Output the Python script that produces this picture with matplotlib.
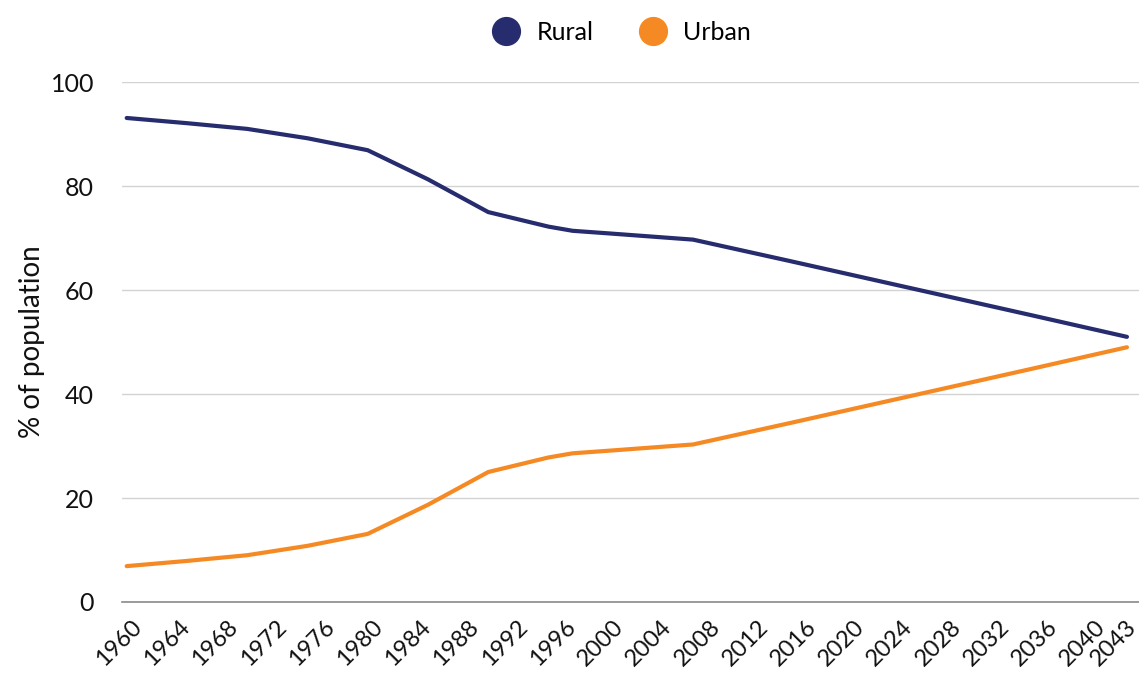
import matplotlib.pyplot as plt
import matplotlib.transforms as mtransforms
from matplotlib.lines import Line2D

# data
years = [1960, 1965, 1970, 1975, 1980, 1985, 1990, 1995, 1997, 2000, 2007, 2015, 2025, 2035, 2043]
rural = [93.1, 92.1, 91.0, 89.2, 86.9, 81.3, 75.0, 72.2, 71.4, 70.9, 69.7, 65.6, 60.4, 55.2, 51.0]
urban = [6.9, 7.9, 9.0, 10.8, 13.1, 18.7, 25.0, 27.8, 28.6, 29.1, 30.3, 34.4, 39.6, 44.8, 49.0]
tick_years = list(range(1960, 2041, 4)) + [2043]

navy = '#262c6d'
orange = '#f58a24'

plt.rcParams['font.family'] = ['Lato', 'DejaVu Sans']

fig = plt.figure(figsize=(11.39, 6.73), dpi=100)
ax = fig.add_axes([0.107, 0.1055, 0.893, 0.7725])

ax.plot(years, rural, color=navy, lw=3, solid_capstyle='round', solid_joinstyle='round')
ax.plot(years, urban, color=orange, lw=3, solid_capstyle='round', solid_joinstyle='round')

ax.set_xlim(1959.6, 2044.0)
ax.set_ylim(0, 100)
ax.set_yticks([0, 20, 40, 60, 80, 100])
ax.set_xticks(tick_years)
ax.set_xticklabels([str(y) for y in tick_years], rotation=45, ha='right',
                   va='top', rotation_mode='anchor')
ax.tick_params(axis='both', length=0, labelsize=18, colors='#111111')
ax.tick_params(axis='x', labelsize=17, pad=10)
ax.tick_params(axis='y', pad=20)

# nudge the rotated year labels a little to the right (last one less, so it stays inside)
labels = ax.get_xticklabels()
for i, lab in enumerate(labels):
    dx = 4 if i < len(labels) - 1 else -1
    off = mtransforms.ScaledTranslation(dx / 100, 0, fig.dpi_scale_trans)
    lab.set_transform(lab.get_transform() + off)

ax.grid(axis='y', color='#d3d3d3', lw=1)
ax.set_axisbelow(True)
for s in ['top', 'right', 'left']:
    ax.spines[s].set_visible(False)
ax.spines['bottom'].set_color('#8a8a8a')
ax.spines['bottom'].set_linewidth(1.2)

ax.set_ylabel('% of population', fontsize=20, color='#111111')
ax.yaxis.set_label_coords(-0.076, 0.5)

handles = [Line2D([], [], ls='none', marker='o', markersize=20, color=navy),
           Line2D([], [], ls='none', marker='o', markersize=20, color=orange)]
fig.legend(handles, ['Rural', 'Urban'], loc='center', bbox_to_anchor=(0.541, 0.952),
           ncol=2, frameon=False, fontsize=18, handletextpad=0.2, columnspacing=1.4)

fig.savefig('out.png', dpi=100)
